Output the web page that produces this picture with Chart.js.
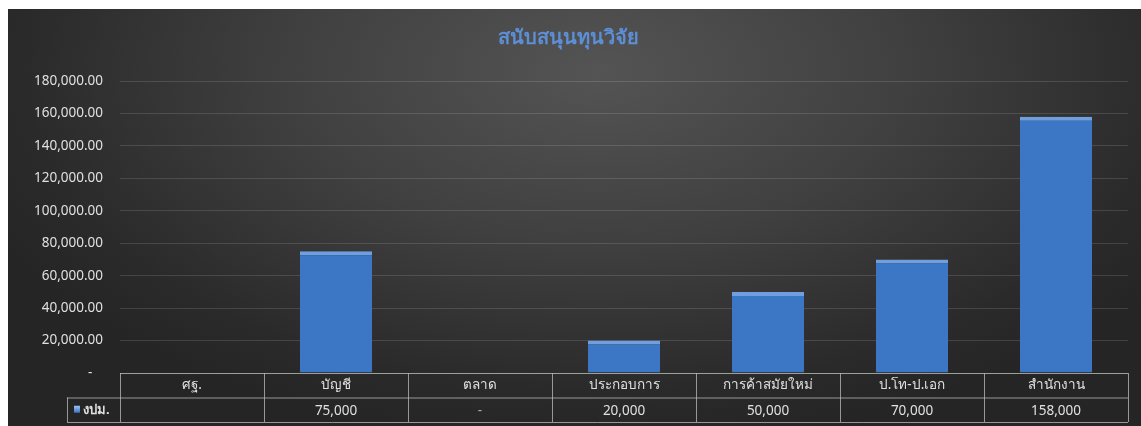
<!DOCTYPE html>
<html>
<head>
<meta charset="utf-8">
<script src="https://cdn.jsdelivr.net/npm/chart.js@4"></script>
<style>
  body { margin: 0; background: #fff; }
  #wrap {
    position: absolute; left: 8px; top: 9px; width: 1133px; height: 417px;
    background: radial-gradient(ellipse 60% 90% at 52% 15%, #545454 0%, #404040 45%, #2a2a2a 85%, #252525 100%);
  }
</style>
</head>
<body>
<div id="wrap"><canvas id="chart"></canvas></div>
<script>
// ข้อมูลกราฟ
const titleText = "สนับสนุนทุนวิจัย";
const seriesName = "งปม.";
const categories = ["ศฐ.", "บัญชี", "ตลาด", "ประกอบการ", "การค้าสมัยใหม่", "ป.โท-ป.เอก", "สำนักงาน"];
const values = [null, 75000, 0, 20000, 50000, 70000, 158000];
const yMax = 180000;
const yStep = 20000;

const fontFamily = "'Noto Sans', 'DejaVu Sans', sans-serif";
const textColor = "#e0e0e0";
const lineColor = "rgba(190,190,190,0.75)";

function fmtTable(v) {
    if (v === null) return "";
    if (v === 0) return "-";
    return v.toLocaleString("en-US");
}

// ตารางข้อมูลใต้กราฟ
const dataTable = {
    id: "dataTable",
    afterDraw(chart) {
        const ctx = chart.ctx;
        const x = chart.scales.x;
        const area = chart.chartArea;
        const cellW = area.width / categories.length;
        const rowH = 24.5;
        const top = area.bottom;
        const legendW = 53;
        ctx.save();
        ctx.strokeStyle = lineColor;
        ctx.lineWidth = 1;
        ctx.beginPath();
        // แนวนอน
        ctx.moveTo(area.left, top + 0.5); ctx.lineTo(area.right, top + 0.5);
        ctx.moveTo(area.left - legendW, top + rowH + 0.5); ctx.lineTo(area.right, top + rowH + 0.5);
        ctx.moveTo(area.left - legendW, top + rowH * 2 + 0.5); ctx.lineTo(area.right, top + rowH * 2 + 0.5);
        // แนวตั้ง
        ctx.moveTo(area.left - legendW + 0.5, top + rowH); ctx.lineTo(area.left - legendW + 0.5, top + rowH * 2);
        for (let i = 0; i <= categories.length; i++) {
            const px = Math.round(area.left + i * cellW) + 0.5;
            ctx.moveTo(px, top); ctx.lineTo(px, top + rowH * 2);
        }
        ctx.stroke();

        ctx.font = "13.5px " + fontFamily;
        ctx.textAlign = "center";
        ctx.textBaseline = "middle";
        categories.forEach((c, i) => {
            const cx = x.getPixelForValue(i);
            ctx.fillStyle = textColor;
            ctx.fillText(c, cx, top + rowH / 2);
            ctx.fillStyle = values[i] === 0 ? "#a8a8a8" : textColor;
            ctx.fillText(fmtTable(values[i]), cx, top + rowH * 1.5 + 1);
        });

        // ช่องคำอธิบาย
        const mx = area.left - legendW + 7;
        const my = top + rowH * 1.5 - 3;
        const g = ctx.createLinearGradient(0, my, 0, my + 7);
        g.addColorStop(0, "#8fbaf0");
        g.addColorStop(1, "#2f66b4");
        ctx.fillStyle = g;
        ctx.fillRect(mx, my - 1, 6, 7);
        ctx.fillStyle = textColor;
        ctx.textAlign = "left";
        ctx.font = "bold 13px " + fontFamily;
        ctx.fillText(seriesName, mx + 9, top + rowH * 1.5 + 1);
        ctx.restore();
    }
};

const ctx = document.getElementById("chart").getContext("2d");
new Chart(ctx, {
    type: "bar",
    data: {
        labels: categories,
        datasets: [{
            label: seriesName,
            data: values,
            backgroundColor: "#3b77c4",
            borderColor: "#6f9fe0",
            borderWidth: { top: 4, left: 0, right: 0, bottom: 0 },
            borderSkipped: "bottom",
            categoryPercentage: 1,
            barPercentage: 0.5,
        }],
    },
    options: {
        responsive: true,
        maintainAspectRatio: false,
        animation: false,
        layout: { padding: { left: 0, right: 13, top: 0, bottom: 53 } },
        plugins: {
            legend: { display: false },
            tooltip: { enabled: false },
            title: {
                display: true,
                text: titleText,
                color: "#5d8fd6",
                font: { family: fontFamily, size: 20, weight: "bold" },
                padding: { top: 17, bottom: 31 },
            },
        },
        scales: {
            x: { display: false },
            y: {
                min: 0,
                max: yMax,
                ticks: {
                    stepSize: yStep,
                    color: textColor,
                    padding: 17,
                    font: { family: fontFamily, size: 13.5 },
                    callback: v => v === 0 ? "-   " : v.toLocaleString("en-US", { minimumFractionDigits: 2 }),
                },
                grid: { color: "rgba(255,255,255,0.13)", drawTicks: false },
                border: { display: false },
                afterFit: s => { s.width = 112; },
            },
        },
    },
    plugins: [dataTable],
});
</script>
</body>
</html>
